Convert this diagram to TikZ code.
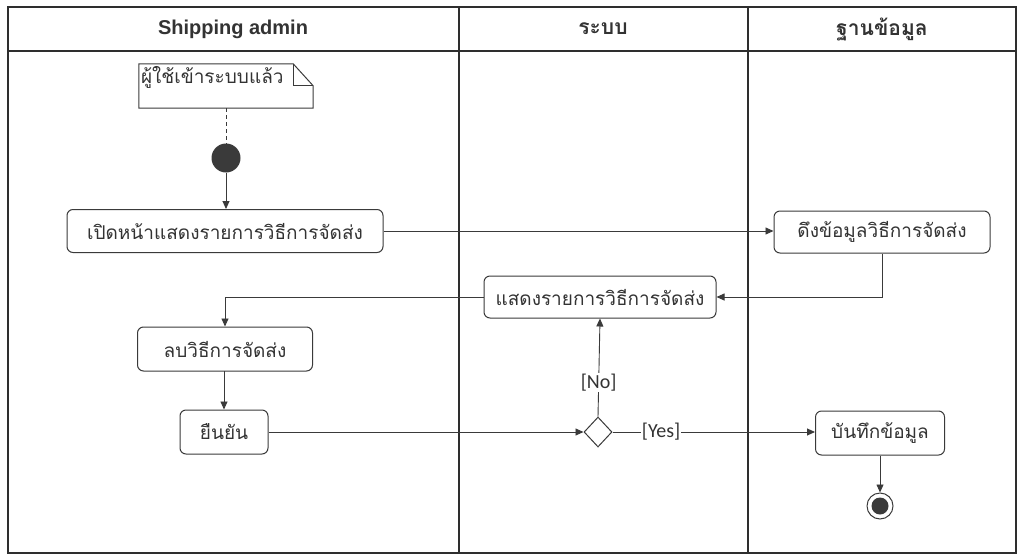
\documentclass[tikz,border=0pt]{standalone}
\usepackage{fontspec}
\setmainfont{Liberation Sans}
\newfontfamily\thaifont[Script=Thai]{Loma}
\newfontfamily\labfont{Carlito}
\usetikzlibrary{arrows.meta,shapes.geometric}
\definecolor{linec}{HTML}{3A3A3A}
\definecolor{txtc}{HTML}{333333}
\definecolor{lanec}{HTML}{2E2E2E}
\begin{document}
\begin{tikzpicture}[x=1pt,y=-1pt,
  lane/.style={draw=lanec, line width=1.1pt},
  hdr/.style={font=\bfseries\fontsize{20}{24}\selectfont, text=txtc, inner sep=0pt},
  thdr/.style={font=\thaifont\bfseries\fontsize{21}{24}\selectfont, text=txtc, inner sep=0pt},
  act/.style={draw=linec, line width=1pt, rounded corners=6pt, fill=white,
    font=\thaifont\fontsize{19}{22}\selectfont, text=txtc, inner sep=0pt},
  flow/.style={draw=linec, line width=0.9pt, -{Triangle[length=8pt,width=7pt]}},
  glabel/.style={font=\labfont\fontsize{20}{22}\selectfont, text=txtc, fill=white, inner sep=1pt},
]
\useasboundingbox (0,0) rectangle (1019,554);
% swimlanes
\draw[lane] (8,7) rectangle (1016,553);
\draw[lane] (8,51) -- (1016,51);
\draw[lane] (459,7) -- (459,553);
\draw[lane] (748,7) -- (748,553);
\node[hdr] (h1) at (233,29) {Shipping admin};
\node[thdr] (h2) at (603,29) {ระบบ};
\node[thdr] (h3) at (882,29) {ฐานข้อมูล};
% note
\node[minimum width=174pt, minimum height=44pt, inner sep=0pt] (note) at (226,86) {};
\draw[linec, line width=1pt] (note.north west) -- ([xshift=-20pt]note.north east)
  -- ([yshift=-22pt]note.north east) -- (note.south east) -- (note.south west) -- cycle;
\draw[linec, line width=1pt] ([xshift=-20pt]note.north east) -- ([xshift=-20pt,yshift=-22pt]note.north east)
  -- ([yshift=-22pt]note.north east);
\node[anchor=north west, inner sep=0pt, font=\thaifont\fontsize{19}{22}\selectfont, text=txtc] (notetext)
  at ([xshift=2pt,yshift=-2pt]note.north west) {ผู้ใช้เข้าระบบแล้ว};
% initial
\node[circle, fill=linec, minimum size=29pt, inner sep=0pt] (init) at (226,158) {};
\draw[linec, line width=1pt, dashed, dash pattern=on 4pt off 3pt] (note.south) -- (init.north);
% activities
\node[act, minimum width=316pt, minimum height=43pt] (open) at (225,231) {เปิดหน้าแสดงรายการวิธีการจัดส่ง};
\node[act, minimum width=216pt, minimum height=42pt] (fetch) at (882,232) {ดึงข้อมูลวิธีการจัดส่ง};
\node[act, minimum width=232pt, minimum height=42pt] (show) at (600,297) {แสดงรายการวิธีการจัดส่ง};
\node[act, minimum width=175pt, minimum height=44pt] (del) at (225,349) {ลบวิธีการจัดส่ง};
\node[act, minimum width=88pt, minimum height=44pt] (conf) at (224,432) {ยืนยัน};
\node[draw=linec, line width=1pt, diamond, fill=white, minimum width=28pt, minimum height=30pt, inner sep=0pt] (dec) at (598,432) {};
\node[act, minimum width=129pt, minimum height=44pt] (save) at (880,433) {บันทึกข้อมูล};
\node[circle, draw=linec, line width=1pt, minimum size=26pt, inner sep=0pt] (fin) at (880,506) {};
\node[circle, fill=linec, minimum size=17pt, inner sep=0pt] (fincore) at (fin.center) {};
% flows
\draw[flow] (init.south) -- (init.south |- open.north);
\draw[flow] (open.east) -- (open.east -| fetch.west);
\draw[flow] (fetch.south) |- (show.east);
\draw[flow] (show.west) -| (del.north);
\draw[flow] (del.south) -- (del.south -| conf.north) -- (conf.north);
\draw[flow] (conf.east) -- (dec.west);
\draw[flow] (dec.north) -- node[glabel, pos=0.35] (nolab) {[No]} (show.south);
\draw[flow] (dec.east) -- node[glabel, pos=0.24] (yeslab) {[Yes]} (dec.east -| save.west);
\draw[flow] (save) -- (fin);
\end{tikzpicture}
\end{document}
